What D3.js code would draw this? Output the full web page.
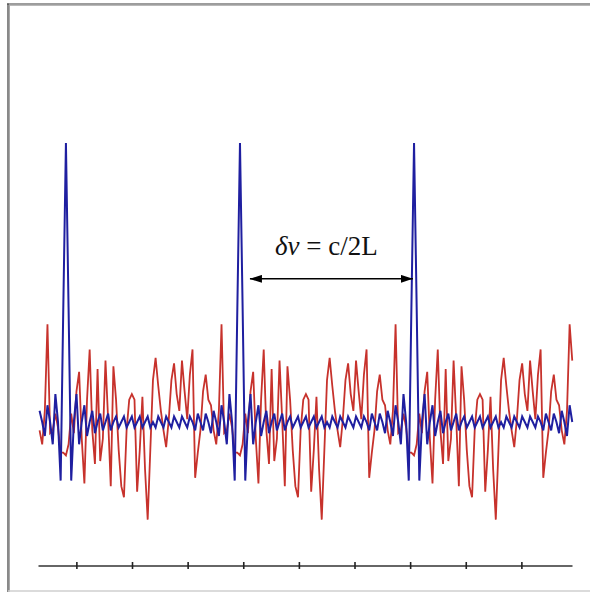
<!DOCTYPE html>
<html>
<head>
<meta charset="utf-8">
<script src="https://cdn.jsdelivr.net/npm/d3@7"></script>
<style>
  html, body { margin: 0; padding: 0; background: #ffffff; }
  svg { display: block; }
</style>
</head>
<body>
<script>
// Field amplitude of the phase-locked modes (blue): sharp pulses every round trip
const lockedField = [
  4,0,-5,6,0,-8,10,0,-21,41,
  100,
  41,-21,0,10,-8,0,6,-5,0,4,-4,0,3,-3,0,3,-3,0,2,-2,0,2,-2,0,2,-2,0,2,-2,0,2,-2,0,
  -2,2,0,-2,2,0,-2,2,0,-2,2,0,-2,2,0,-3,3,0,-3,3,0,-4,4,0,-5,6,0,-8,10,0,-21,41,
  100,
  41,-21,0,10,-8,0,6,-5,0,4,-4,0,3,-3,0,3,-3,0,2,-2,0,2,-2,0,2,-2,0,2,-2,0,2,-2,0,
  -2,2,0,-2,2,0,-2,2,0,-2,2,0,-2,2,0,-3,3,0,-3,3,0,-4,4,0,-5,6,0,-8,10,0,-21,41,
  100,
  41,-21,0,10,-8,0,6,-5,0,4,-4,0,3,-3,0,3,-3,0,2,-2,0,2,-2,0,2,-2,0,2,-2,0,2,-2,0,
  -2,2,0,-2,2,0,-2,2,0,-2,2,0,-2,2,0,-3,3,0,-3,3,0,-4,4,0,-5,6,0
];

// Field amplitude of the same modes with random phases (red)
const randomField = [
  -3,-8,4,
  35,-4,-3,3,-2,-11,-11,-12,-8,3,-4,11,18,-6,-22,8,26,-3,-15,19,-14,-6,22,1,-23,20,8,-10,-23,-27,
  -3,8,10,8,-25,-10,9,-17,-35,-10,15,23,13,4,-3,-9,1,15,21,10,4,22,11,1,17,26,-20,-11,-3,11,17,8,6,-3,-8,4,
  35,-4,-3,3,-2,-11,-11,-12,-8,3,-4,11,18,-6,-22,8,26,-3,-15,19,-14,-6,22,1,-23,20,8,-10,-23,-27,
  -3,8,10,8,-25,-10,9,-17,-35,-10,15,23,13,4,-3,-9,1,15,21,10,4,22,11,1,17,26,-20,-11,-3,11,17,8,6,-3,-8,4,
  35,-4,-3,3,-2,-11,-11,-12,-8,3,-4,11,18,-6,-22,8,26,-3,-15,19,-14,-6,22,1,-23,20,8,-10,-23,-27,
  -3,8,10,8,-25,-10,9,-17,-35,-10,15,23,13,4,-3,-9,1,15,21,10,4,22,11,1,17,26,-20,-11,-3,11,17,8,6,-3,-8,4,
  35,22
];

// Time axis
const tickValues = [1, 2, 3, 4, 5, 6, 7, 8, 9];
const timeDomain = [0.31, 9.91];
const timeStart = 0.338;
const timeStep = 0.04741;
const fieldDomain = [-50, 100];

// Annotation: spacing between successive pulses
const spacingLabelItalic = "\u03B4\u03BD";
const spacingLabelRest = " = c/2L";
const arrowSpan = [4.12, 7.05];
const arrowLevel = 51.3;
const labelTime = 4.57;
const labelLevel = 60.0;

const W = 590, H = 592;
const svg = d3.select("body").append("svg")
  .attr("width", W).attr("height", H);

// Inset frame
svg.append("line").attr("x1", 7).attr("x2", W).attr("y1", 4).attr("y2", 4)
  .attr("stroke", "#3a3a3a").attr("stroke-width", 1.2);
svg.append("line").attr("x1", 9).attr("x2", W).attr("y1", 5.3).attr("y2", 5.3)
  .attr("stroke", "#a8a8a8").attr("stroke-width", 1);
svg.append("line").attr("x1", 8).attr("x2", 8).attr("y1", 3.4).attr("y2", H)
  .attr("stroke", "#3a3a3a").attr("stroke-width", 1.2);
svg.append("line").attr("x1", 9.5).attr("x2", 9.5).attr("y1", 5).attr("y2", H)
  .attr("stroke", "#a8a8a8").attr("stroke-width", 1);
svg.append("line").attr("x1", 8).attr("x2", W).attr("y1", 591).attr("y2", 591)
  .attr("stroke", "#cfcfcf").attr("stroke-width", 1.5);

const x = d3.scaleLinear().domain(timeDomain).range([38, 572]);
const y = d3.scaleLinear().domain(fieldDomain).range([561.5, 143]);

const line = d3.line()
  .x((d, i) => x(timeStart + i * timeStep))
  .y(d => y(d));

svg.append("path").datum(randomField)
  .attr("d", line)
  .attr("fill", "none")
  .attr("stroke", "#c7322c")
  .attr("stroke-width", 1.8)
  .attr("stroke-linejoin", "miter");

svg.append("path").datum(lockedField)
  .attr("d", line)
  .attr("fill", "none")
  .attr("stroke", "#1f1fa0")
  .attr("stroke-width", 2)
  .attr("stroke-linejoin", "miter");

// Bottom axis without labels, ticks crossing the line
const axis = d3.axisBottom(x)
  .tickValues(tickValues)
  .tickFormat("")
  .tickSizeInner(3)
  .tickSizeOuter(0);
const gAxis = svg.append("g")
  .attr("transform", "translate(0,565.5)")
  .call(axis);
gAxis.select(".domain").attr("stroke", "#333").attr("stroke-width", 1.6);
gAxis.selectAll(".tick line")
  .attr("y1", -3.5).attr("y2", 3.5)
  .attr("stroke", "#222").attr("stroke-width", 1.6);

// Double-headed arrow
const defs = svg.append("defs");
defs.append("marker")
  .attr("id", "head")
  .attr("viewBox", "0 0 12 8")
  .attr("refX", 12).attr("refY", 4)
  .attr("markerWidth", 12).attr("markerHeight", 8)
  .attr("markerUnits", "userSpaceOnUse")
  .attr("orient", "auto-start-reverse")
  .append("path").attr("d", "M0,0 L12,4 L0,8 Z").attr("fill", "#000");

svg.append("line")
  .attr("x1", x(arrowSpan[0])).attr("x2", x(arrowSpan[1]))
  .attr("y1", y(arrowLevel)).attr("y2", y(arrowLevel))
  .attr("stroke", "#000").attr("stroke-width", 1.5)
  .attr("marker-start", "url(#head)")
  .attr("marker-end", "url(#head)");

const label = svg.append("text")
  .attr("x", x(labelTime)).attr("y", y(labelLevel))
  .attr("font-family", "'Liberation Serif', 'Times New Roman', serif")
  .attr("font-size", 27)
  .attr("fill", "#111");
label.append("tspan").attr("font-style", "italic").text(spacingLabelItalic);
label.append("tspan").attr("xml:space", "preserve").text(spacingLabelRest);
</script>
</body>
</html>
